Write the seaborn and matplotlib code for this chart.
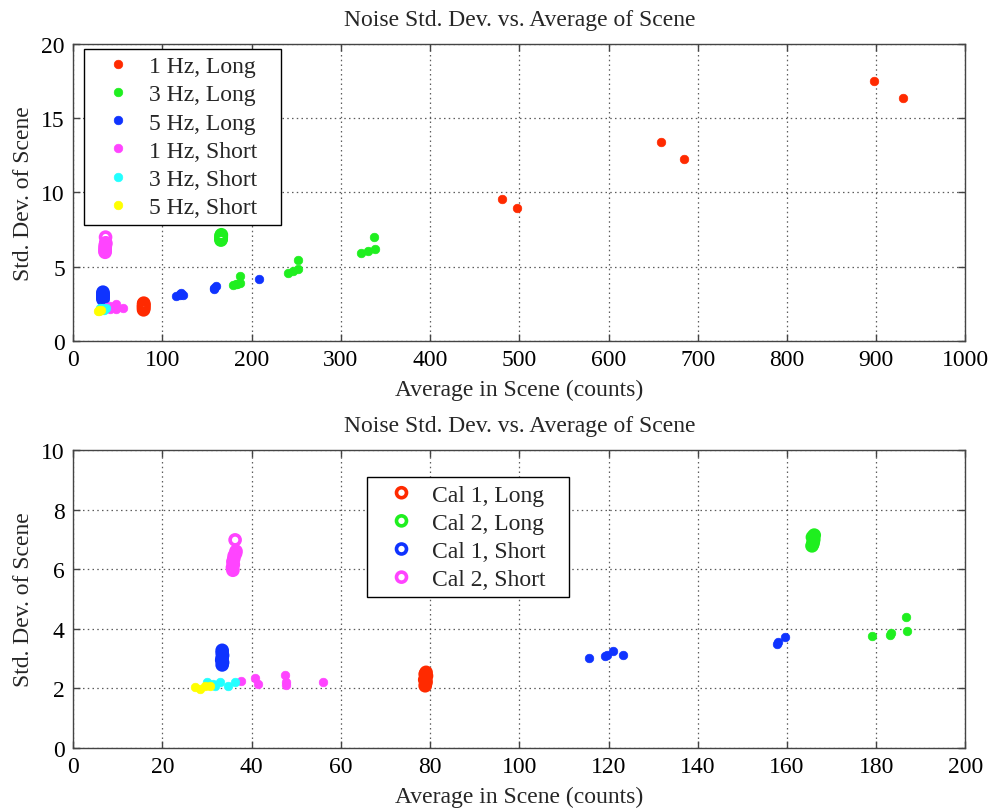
import matplotlib
matplotlib.use("Agg")
import matplotlib.pyplot as plt
import seaborn as sns
import pandas as pd

# ---------------- data ----------------
# Dot series (Hz / exposure)
hz1_long_x = [480.5, 497.7, 659.2, 685.0, 897.5, 929.6]
hz1_long_y = [9.55, 8.92, 13.39, 12.23, 17.50, 16.33]

hz3_long_x = [179.1, 183.0, 183.2, 186.9, 186.7, 241.3, 246.2, 252.5, 252.1, 322.4, 330.3, 337.8, 336.6]
hz3_long_y = [3.74, 3.80, 3.85, 3.91, 4.39, 4.59, 4.73, 4.82, 5.45, 5.90, 6.04, 6.17, 6.96]

hz5_long_x = [115.7, 119.3, 119.7, 120.9, 123.2, 157.7, 157.9, 159.6, 208.8]
hz5_long_y = [3.02, 3.08, 3.12, 3.24, 3.10, 3.47, 3.55, 3.71, 4.14]

hz1_short_x = [37.6, 40.8, 41.5, 47.5, 47.7, 47.7, 56.1]
hz1_short_y = [2.25, 2.33, 2.14, 2.44, 2.22, 2.11, 2.20]

hz3_short_x = [29.9, 31.4, 31.8, 32.9, 34.8, 36.3]
hz3_short_y = [2.20, 2.14, 2.08, 2.20, 2.08, 2.20]

hz5_short_x = [27.3, 28.4, 29.5, 30.7]
hz5_short_y = [2.03, 1.97, 2.06, 2.08]

# Calibration series (open circles)
cal1_long_x = [78.9, 79.0, 79.1, 78.8, 79.0, 79.2, 78.9, 79.1]
cal1_long_y = [2.08, 2.15, 2.22, 2.28, 2.35, 2.41, 2.47, 2.53]

cal2_long_x = [165.6, 165.8, 165.9, 166.0, 165.7, 166.1]
cal2_long_y = [6.78, 6.85, 6.92, 7.00, 7.07, 7.14]

cal1_short_x = [33.4, 33.5, 33.3, 33.4, 33.5, 33.4, 33.4]
cal1_short_y = [2.78, 2.86, 2.94, 3.02, 3.10, 3.18, 3.27]

cal2_short_x = [35.8, 35.7, 35.9, 35.8, 36.0, 36.1, 36.4, 36.5, 36.3]
cal2_short_y = [5.96, 6.05, 6.15, 6.25, 6.35, 6.45, 6.52, 6.60, 6.98]

dot_labels = ["1 Hz, Long", "3 Hz, Long", "5 Hz, Long", "1 Hz, Short", "3 Hz, Short", "5 Hz, Short"]
cal_labels = ["Cal 1, Long", "Cal 2, Long", "Cal 1, Short", "Cal 2, Short"]

title_text = "Noise Std. Dev. vs. Average of Scene"
xlabel_text = "Average in Scene (counts)"
ylabel_text = "Std. Dev. of Scene"

top_xticks = [0, 100, 200, 300, 400, 500, 600, 700, 800, 900, 1000]
top_yticks = [0, 5, 10, 15, 20]
bot_xticks = [0, 20, 40, 60, 80, 100, 120, 140, 160, 180, 200]
bot_yticks = [0, 2, 4, 6, 8, 10]

# ---------------- styling ----------------
RED = "#ff2a00"
GREEN = "#1fef1f"
BLUE = "#0f33ff"
MAGENTA = "#ff44ff"
CYAN = "#22ffff"
YELLOW = "#ffff00"

dot_series = [
    (hz1_long_x, hz1_long_y, RED),
    (hz3_long_x, hz3_long_y, GREEN),
    (hz5_long_x, hz5_long_y, BLUE),
    (hz1_short_x, hz1_short_y, MAGENTA),
    (hz3_short_x, hz3_short_y, CYAN),
    (hz5_short_x, hz5_short_y, YELLOW),
]
cal_series = [
    (cal1_long_x, cal1_long_y, RED),
    (cal2_long_x, cal2_long_y, GREEN),
    (cal1_short_x, cal1_short_y, BLUE),
    (cal2_short_x, cal2_short_y, MAGENTA),
]

sns.set_theme(style="white")
plt.rcParams["font.family"] = ["Liberation Serif", "DejaVu Serif"]
FS = 17

fig = plt.figure(figsize=(9.94, 8.12), dpi=100)
ax_top = fig.add_axes([0.0736, 0.5792, 0.8977, 0.3654])
ax_bot = fig.add_axes([0.0736, 0.0780, 0.8977, 0.3666])

DOT_S = 38
CAL_S = 52
CAL_LW = 2.6


def draw(ax, dots_labeled):
    for (xs, ys, col), lab in zip(cal_series, cal_labels):
        df = pd.DataFrame({"x": xs, "y": ys})
        sns.scatterplot(data=df, x="x", y="y", ax=ax, color=col, marker="o",
                        s=CAL_S, facecolor="none", edgecolor=col, linewidth=CAL_LW,
                        label=(None if dots_labeled else lab), legend=False, zorder=3)
    for (xs, ys, col), lab in zip(dot_series, dot_labels):
        df = pd.DataFrame({"x": xs, "y": ys})
        sns.scatterplot(data=df, x="x", y="y", ax=ax, color=col, marker="o",
                        s=DOT_S, edgecolor=col, linewidth=0.5,
                        label=(lab if dots_labeled else None), legend=False, zorder=4)


def style(ax, xticks, yticks):
    ax.set_xlim(xticks[0], xticks[-1])
    ax.set_ylim(yticks[0], yticks[-1])
    ax.set_xticks(xticks)
    ax.set_yticks(yticks)
    ax.set_xticklabels([str(t) for t in xticks])
    ax.set_yticklabels([str(t) for t in yticks])
    ax.grid(True, color="#333333", linestyle=(0, (1.2, 2.6)), linewidth=0.9, alpha=0.8)
    ax.set_axisbelow(True)
    for sp in ax.spines.values():
        sp.set_color("#444444")
        sp.set_linewidth(1.0)
        sp.set_visible(True)
    ax.tick_params(direction="in", length=5, width=1, colors="#444444",
                   labelcolor="black", labelsize=FS, top=True, right=True,
                   bottom=True, left=True, pad=6)
    ax.set_xlabel(xlabel_text, fontsize=FS, labelpad=6)
    ax.set_ylabel(ylabel_text, fontsize=FS, labelpad=5)
    ax.set_title(title_text, fontsize=FS, pad=14)


draw(ax_top, True)
draw(ax_bot, False)
style(ax_top, top_xticks, top_yticks)
style(ax_bot, bot_xticks, bot_yticks)

leg_kw = dict(loc="upper left", mode="expand", fontsize=FS, frameon=True, fancybox=False,
              shadow=False, framealpha=1, edgecolor="black", borderpad=0.3,
              labelspacing=0.28, handlelength=2.3, handletextpad=0.15, borderaxespad=0,
              scatterpoints=1, scatteryoffsets=[0.5])
lt = ax_top.legend(bbox_to_anchor=(0.0124, 0.0, 0.2208, 0.984), **leg_kw)
lt.get_frame().set_linewidth(1.0)
lb = ax_bot.legend(bbox_to_anchor=(0.3296, 0.0, 0.2260, 0.908), **leg_kw)
lb.get_frame().set_linewidth(1.0)

fig.savefig("out.png", dpi=100, facecolor="white")
